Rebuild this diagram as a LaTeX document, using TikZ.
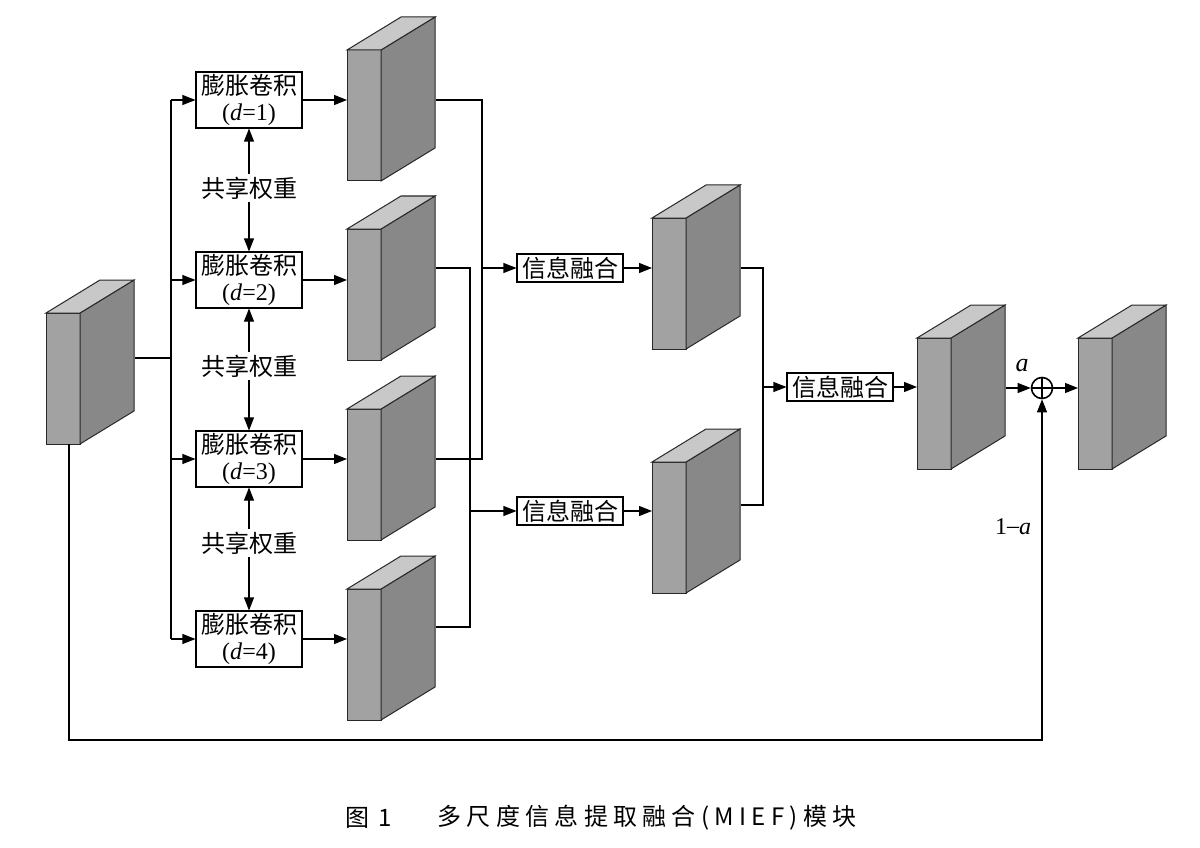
\documentclass[tikz,border=0pt]{standalone}
\usepackage{fontspec}
\setmainfont{Liberation Serif}
\newfontfamily\cjk{Noto Sans CJK SC}
\newfontfamily\capcjk{Noto Sans CJK SC}[LetterSpace=22]
\usetikzlibrary{arrows.meta}
\definecolor{frontg}{RGB}{162,162,162}
\definecolor{sideg}{RGB}{136,136,136}
\definecolor{topg}{RGB}{200,200,200}
\definecolor{edge}{RGB}{40,40,40}
\newcommand\mycuboid[3]{%
  \path[draw=edge, line width=1pt, fill=frontg] (#2,#3) rectangle ++(34,131);
  \path[draw=edge, line width=1pt, fill=sideg] (#2+34,#3) -- ++(54,-33) -- ++(0,131) -- ++(-54,33) -- cycle;
  \path[draw=edge, line width=1pt, fill=topg] (#2,#3) -- ++(54,-33) -- ++(34,0) -- ++(-54,33) -- cycle;
  \node[inner sep=0pt, minimum width=34pt, minimum height=131pt, anchor=north west] (#1) at (#2,#3) {};
  \coordinate (#1r) at (#2+89,#3+65);
}
\tikzset{
  arr/.style={-{Triangle[length=13pt,width=10pt]}, line width=1.1pt},
  ln/.style={line width=1.1pt},
  convbox/.style={draw, line width=1.1pt, minimum width=106pt, minimum height=56pt, inner sep=0pt, align=center, font=\fontsize{24}{26}\selectfont},
  fusebox/.style={draw, line width=1.1pt, minimum width=106pt, minimum height=28pt, inner sep=0pt, font=\cjk\fontsize{24}{25}\selectfont},
  share/.style={font=\cjk\fontsize{24}{26}\selectfont, inner sep=3pt},
  lbl/.style={font=\fontsize{24}{26}\selectfont, inner sep=1pt},
}
\begin{document}
\begin{tikzpicture}[x=1pt,y=-1pt]
\useasboundingbox (0,0) rectangle (1200,848);
% cuboids
\mycuboid{in}{46}{313}
\mycuboid{c1}{347}{50}
\mycuboid{c2}{347}{229}
\mycuboid{c3}{347}{409}
\mycuboid{c4}{347}{589}
\mycuboid{cf1}{652}{218}
\mycuboid{cf2}{652}{462}
\mycuboid{cf3}{917}{338}
\mycuboid{co}{1078}{338}
% conv boxes
\node[convbox] (b1) at (249,100) {{\cjk 膨胀卷积}\\(\textit{d}=1)};
\node[convbox] (b2) at (249,280) {{\cjk 膨胀卷积}\\(\textit{d}=2)};
\node[convbox] (b3) at (249,459) {{\cjk 膨胀卷积}\\(\textit{d}=3)};
\node[convbox] (b4) at (249,639) {{\cjk 膨胀卷积}\\(\textit{d}=4)};
\node[share] (s1) at (249,188) {共享权重};
\node[share] (s2) at (249,366) {共享权重};
\node[share] (s3) at (249,543) {共享权重};
\draw[arr] (s1.north) -- (b1.south);
\draw[arr] (s1.south) -- (b2.north);
\draw[arr] (s2.north) -- (b2.south);
\draw[arr] (s2.south) -- (b3.north);
\draw[arr] (s3.north) -- (b3.south);
\draw[arr] (s3.south) -- (b4.north);
% input trunk
\coordinate (t0) at (171,358);
\coordinate (ttop) at (171,100);
\coordinate (tbot) at (171,639);
\draw[ln] (inr |- t0) -- (t0);
\draw[ln] (ttop) -- (tbot);
\draw[arr] (ttop) -- (b1.west);
\draw[arr] (b2.west -| ttop) -- (b2.west);
\draw[arr] (b3.west -| ttop) -- (b3.west);
\draw[arr] (b4.west -| ttop) -- (b4.west);
% box -> cuboid
\draw[arr] (b1.east) -- (b1.east -| c1.west);
\draw[arr] (b2.east) -- (b2.east -| c2.west);
\draw[arr] (b3.east) -- (b3.east -| c3.west);
\draw[arr] (b4.east) -- (b4.east -| c4.west);
% fusion boxes
\node[fusebox] (f1) at (570,268) {信息融合};
\node[fusebox] (f2) at (570,511) {信息融合};
\node[fusebox] (f3) at (840,387) {信息融合};
% bracket 1
\coordinate (k1a) at (482,100);
\coordinate (k1b) at (482,459);
\coordinate (k1m) at (482,268);
\draw[ln] (c1r |- k1a) -- (k1a) -- (k1b) -- (c3r |- k1b);
\draw[arr] (k1m) -- (f1.west);
% bracket 2
\coordinate (k2a) at (470,268);
\coordinate (k2b) at (470,627);
\coordinate (k2m) at (470,511);
\draw[ln] (c2r |- k2a) -- (k2a) -- (k2b) -- (c4r |- k2b);
\draw[arr] (k2m) -- (f2.west);
% fusion -> cuboids
\draw[arr] (f1.east) -- (f1.east -| cf1.west);
\draw[arr] (f2.east) -- (f2.east -| cf2.west);
% bracket 3
\coordinate (k3a) at (763,268);
\coordinate (k3b) at (763,505);
\coordinate (k3m) at (763,387);
\draw[ln] (cf1r |- k3a) -- (k3a) -- (k3b) -- (cf2r |- k3b);
\draw[arr] (k3m) -- (f3.west);
\draw[arr] (f3.east) -- (f3.east -| cf3.west);
% sum
\node[circle, draw, line width=1.6pt, minimum size=21pt, inner sep=0pt] (plus) at (1042,388) {};
\draw[line width=1.6pt] (plus.north) -- (plus.south) (plus.west) -- (plus.east);
\draw[arr] (cf3r |- plus) -- (plus.west);
\node[lbl, font=\itshape\fontsize{26}{28}\selectfont] (la) at (1022,366) {a};
\draw[arr] (plus.east) -- (plus.east -| co.west);
% feedback
\coordinate (fb1) at (69,740);
\draw[arr] (in.south -| fb1) -- (fb1) -- (fb1 -| plus) -- (plus.south);
\node[lbl, font=\fontsize{24}{26}\selectfont] (l1a) at (1013,527) {1\raisebox{1pt}{\textendash}\textit{a}};
% caption
\node[font=\cjk\fontsize{24}{26}\selectfont, inner sep=0pt] (cap1) at (369,818) {图\hspace{9pt}1};
\node[font=\capcjk\fontsize{24}{26}\selectfont, inner sep=0pt] (cap2) at (647,818) {多尺度信息提取融合(MIEF)模块};
\end{tikzpicture}
\end{document}
